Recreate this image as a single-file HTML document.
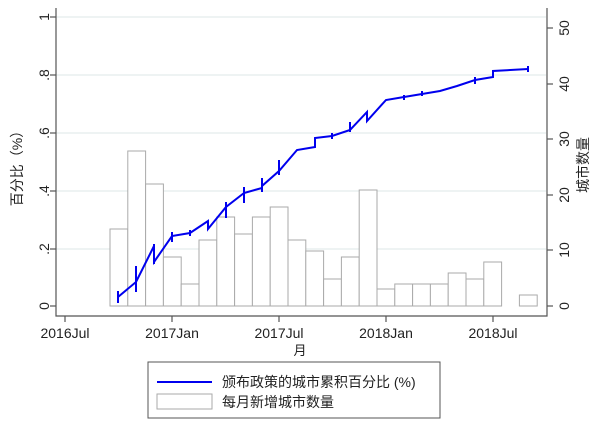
<!DOCTYPE html><html><head><meta charset="utf-8"><style>body{margin:0;background:#fff}svg{display:block}text{font-family:"Liberation Sans","Noto Sans CJK SC",sans-serif;fill:#222}</style></head><body>
<svg width="600" height="427" viewBox="0 0 600 427">
<g stroke="#e3ecec" stroke-width="1.2">
<line x1="56" x2="546" y1="17" y2="17"/><line x1="56" x2="546" y1="75" y2="75"/><line x1="56" x2="546" y1="133" y2="133"/><line x1="56" x2="546" y1="191" y2="191"/><line x1="56" x2="546" y1="249" y2="249"/>
</g>
<g fill="#fff" stroke="#aaa" stroke-width="1">
<rect x="110" y="229" width="17.8" height="77"/>
<rect x="127.8" y="151" width="17.8" height="155"/>
<rect x="145.6" y="184" width="17.8" height="122"/>
<rect x="163.4" y="257" width="17.8" height="49"/>
<rect x="181.2" y="284" width="17.8" height="22"/>
<rect x="199" y="240" width="17.8" height="66"/>
<rect x="216.8" y="217" width="17.8" height="89"/>
<rect x="234.6" y="234" width="17.8" height="72"/>
<rect x="252.4" y="217" width="17.8" height="89"/>
<rect x="270.2" y="207" width="17.8" height="99"/>
<rect x="288" y="240" width="17.8" height="66"/>
<rect x="305.8" y="251" width="17.8" height="55"/>
<rect x="323.6" y="279" width="17.8" height="27"/>
<rect x="341.4" y="257" width="17.8" height="49"/>
<rect x="359.2" y="190" width="17.8" height="116"/>
<rect x="377" y="289" width="17.8" height="17"/>
<rect x="394.8" y="284" width="17.8" height="22"/>
<rect x="412.6" y="284" width="17.8" height="22"/>
<rect x="430.4" y="284" width="17.8" height="22"/>
<rect x="448.2" y="273" width="17.8" height="33"/>
<rect x="466" y="279" width="17.8" height="27"/>
<rect x="483.8" y="262" width="17.8" height="44"/>
<rect x="519.4" y="295" width="17.8" height="11"/>
</g>
<polyline fill="none" stroke="#0000ee" stroke-width="2" points="118,297 136,282 154,246 154,262 172,236 190,233 208,221 208,229 226,207 244,193 262,188 262,186 279,171 297,150 315,147 315,138 332,136 350,130 367,112 367,121 386,100 404,97 422,94 440,91 457,86 475,80 493,77 493,71 528,69"/>
<g stroke="#0000ee" stroke-width="2">
<line x1="118" x2="118" y1="291" y2="303"/><line x1="136" x2="136" y1="266" y2="292"/><line x1="154" x2="154" y1="244" y2="264"/><line x1="172" x2="172" y1="232" y2="242"/><line x1="190" x2="190" y1="230" y2="236"/><line x1="226" x2="226" y1="202" y2="218"/><line x1="244" x2="244" y1="187" y2="203"/><line x1="262" x2="262" y1="178" y2="192"/><line x1="279" x2="279" y1="160" y2="175"/><line x1="332" x2="332" y1="133" y2="139"/><line x1="350" x2="350" y1="122" y2="132"/><line x1="404" x2="404" y1="95" y2="100"/><line x1="422" x2="422" y1="91" y2="96"/><line x1="475" x2="475" y1="77" y2="84"/><line x1="528" x2="528" y1="66" y2="72"/>
</g>
<g stroke="#555" stroke-width="1.2" fill="none">
<polyline points="56,8 56,316 547,316 547,8"/>
<line x1="50" x2="56" y1="306" y2="306"/><line x1="50" x2="56" y1="249" y2="249"/><line x1="50" x2="56" y1="191" y2="191"/><line x1="50" x2="56" y1="133" y2="133"/><line x1="50" x2="56" y1="75" y2="75"/><line x1="50" x2="56" y1="17" y2="17"/>
<line x1="547" x2="553" y1="306" y2="306"/><line x1="547" x2="553" y1="250" y2="250"/><line x1="547" x2="553" y1="195" y2="195"/><line x1="547" x2="553" y1="139" y2="139"/><line x1="547" x2="553" y1="84" y2="84"/><line x1="547" x2="553" y1="28" y2="28"/>
<line x1="65" x2="65" y1="316" y2="322"/><line x1="172" x2="172" y1="316" y2="322"/><line x1="279" x2="279" y1="316" y2="322"/><line x1="386" x2="386" y1="316" y2="322"/><line x1="493" x2="493" y1="316" y2="322"/>
</g>
<g font-size="14" text-anchor="middle">
<text transform="translate(44,306) rotate(-90)" dy="5">0</text>
<text transform="translate(44,249) rotate(-90)" dy="5">.2</text>
<text transform="translate(44,191) rotate(-90)" dy="5">.4</text>
<text transform="translate(44,133) rotate(-90)" dy="5">.6</text>
<text transform="translate(44,75) rotate(-90)" dy="5">.8</text>
<text transform="translate(44,17) rotate(-90)" dy="5">1</text>
<text transform="translate(564,306) rotate(-90)" dy="5">0</text>
<text transform="translate(564,250) rotate(-90)" dy="5">10</text>
<text transform="translate(564,195) rotate(-90)" dy="5">20</text>
<text transform="translate(564,139) rotate(-90)" dy="5">30</text>
<text transform="translate(564,84) rotate(-90)" dy="5">40</text>
<text transform="translate(564,28) rotate(-90)" dy="5">50</text>
<text x="65" y="338">2016Jul</text><text x="172" y="338">2017Jan</text><text x="279" y="338">2017Jul</text><text x="386" y="338">2018Jan</text><text x="493" y="338">2018Jul</text>
<text x="300" y="355" font-size="13">月</text>
<text transform="translate(22,165) rotate(-90)" font-size="14" fill="#444">百分比（%）</text>
<text transform="translate(588,165) rotate(-90)" font-size="14" fill="#444">城市数量</text>
</g>
<rect x="148" y="362" width="292" height="56" fill="#fff" stroke="#555"/>
<line x1="157" x2="212" y1="382" y2="382" stroke="#0000ee" stroke-width="2"/>
<rect x="157" y="394" width="55" height="15" fill="#fff" stroke="#aaa"/>
<text x="222" y="387" font-size="14">颁布政策的城市累积百分比 (%)</text>
<text x="222" y="407" font-size="14">每月新增城市数量</text>
</svg></body></html>
